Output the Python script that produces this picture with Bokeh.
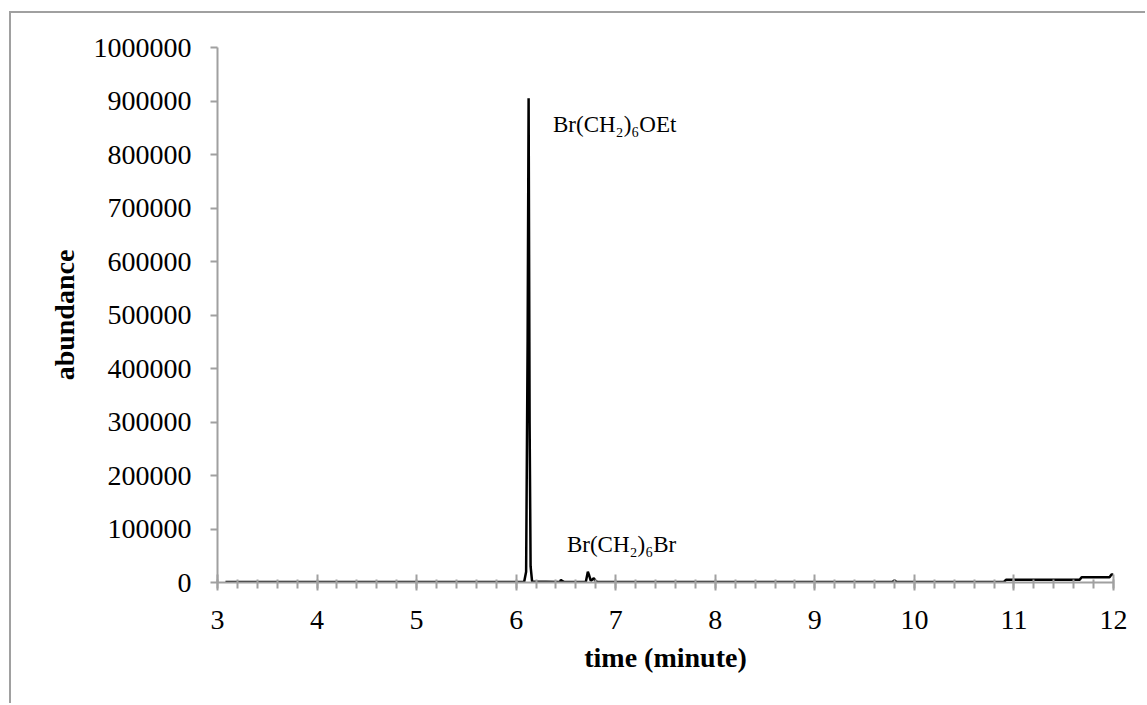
from bokeh.plotting import figure
from bokeh.models import FixedTicker, BasicTickFormatter, Range1d, ColumnDataSource
from bokeh.core.properties import value
from bokeh.embed import file_html
from bokeh.resources import INLINE

# ---- data ----
time_min = [3.08, 6.08, 6.10, 6.115, 6.125, 6.135, 6.145, 6.16,
            6.44, 6.45, 6.46, 6.48,
            6.70, 6.72, 6.73, 6.75, 6.78, 6.80, 6.82,
            9.78, 9.80, 9.82,
            10.90, 10.92, 11.66, 11.68, 11.96, 11.98, 12.0]
abundance = [1000, 1000, 20000, 450000, 905000, 300000, 30000, 2000,
             1000, 5000, 3000, 1000,
             1500, 20000, 15000, 3000, 8000, 2000, 1000,
             1000, 4000, 1000,
             1000, 5000, 5000, 10000, 10000, 15000, 15000]

x_ticks = [3, 4, 5, 6, 7, 8, 9, 10, 11, 12]
x_minor = [3 + 0.2 * i for i in range(46)]
y_ticks = [0, 100000, 200000, 300000, 400000, 500000, 600000, 700000, 800000, 900000, 1000000]

label_text = ["Br(CH\u2082)\u2086OEt", "Br(CH\u2082)\u2086Br"]
label_x = [6.37, 6.51]
label_y = [857000, 71000]

FONT = "Liberation Serif"
GRAY = "#A0A0A0"

p = figure(width=1136, height=692, output_backend="svg", toolbar_location=None,
           x_range=Range1d(3, 12), y_range=Range1d(0, 1000000),
           min_border_left=206, min_border_top=34, min_border_right=34, min_border_bottom=123)
p.styles = {"margin-left": "9px", "margin-top": "11px",
            "border-left": "2px solid " + GRAY, "border-top": "2px solid " + GRAY}

p.line(time_min, abundance, line_color="black", line_width=2.5)

src = ColumnDataSource(dict(x=label_x, y=label_y, t=label_text))
p.text(x="x", y="y", text="t", source=src, text_font=value(FONT), text_font_size="23px",
       text_color="black", text_baseline="alphabetic", text_align="left")

p.xgrid.visible = False
p.ygrid.visible = False
p.outline_line_color = None

xa = p.xaxis[0]
xa.ticker = FixedTicker(ticks=x_ticks, minor_ticks=x_minor)
xa.axis_line_color = GRAY
xa.axis_line_width = 2
xa.major_tick_line_color = GRAY
xa.major_tick_line_width = 2
xa.major_tick_in = 8
xa.major_tick_out = 8
xa.minor_tick_line_color = GRAY
xa.minor_tick_line_width = 2
xa.minor_tick_in = 3
xa.minor_tick_out = 6
xa.major_label_text_font = FONT
xa.major_label_text_font_size = "28px"
xa.major_label_text_color = "black"
xa.major_label_standoff = 20
xa.axis_label = "time (minute)"
xa.axis_label_text_font = FONT
xa.axis_label_text_font_size = "28px"
xa.axis_label_text_font_style = "bold"
xa.axis_label_text_color = "black"
xa.axis_label_standoff = 10

ya = p.yaxis[0]
ya.ticker = FixedTicker(ticks=y_ticks)
ya.formatter = BasicTickFormatter(use_scientific=False)
ya.axis_line_color = GRAY
ya.axis_line_width = 2
ya.major_tick_line_color = GRAY
ya.major_tick_line_width = 2
ya.major_tick_in = 0
ya.major_tick_out = 7
ya.minor_tick_line_color = None
ya.major_label_text_font = FONT
ya.major_label_text_font_size = "28px"
ya.major_label_text_color = "black"
ya.major_label_standoff = 19
ya.axis_label = "abundance"
ya.axis_label_text_font = FONT
ya.axis_label_text_font_size = "28px"
ya.axis_label_text_font_style = "bold"
ya.axis_label_text_color = "black"
ya.axis_label_standoff = 11

open("out.html", "w").write(file_html(p, INLINE))
